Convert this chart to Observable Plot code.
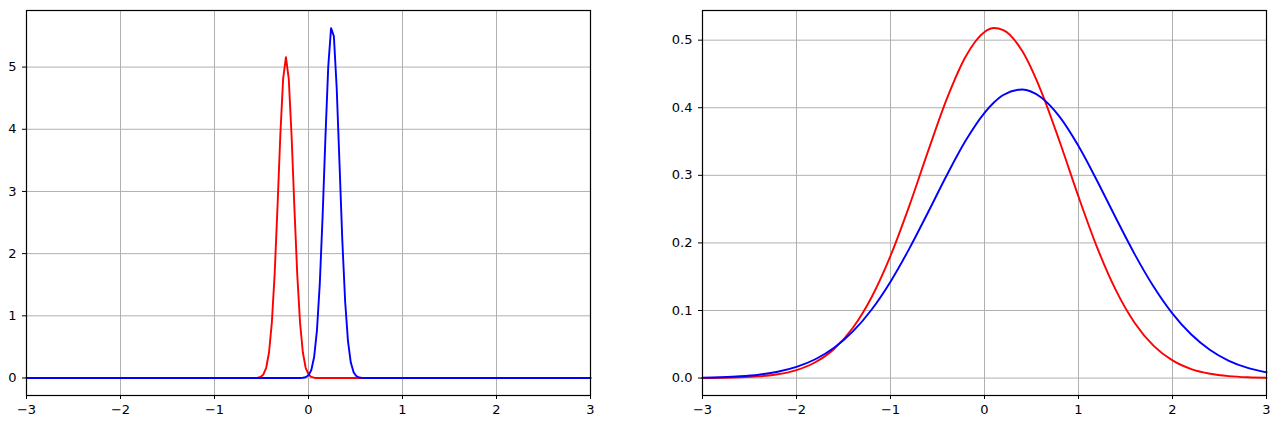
<!DOCTYPE html>
<html>
<head>
<meta charset="utf-8">
<script src="https://cdn.jsdelivr.net/npm/d3@7"></script>
<script src="https://cdn.jsdelivr.net/npm/@observablehq/plot@0.6"></script>
<style>
  html, body { margin: 0; padding: 0; background: #fff; }
  #wrap { display: flex; width: 1284px; height: 431px; }
</style>
</head>
<body>
<div id="wrap"></div>
<script>
// ---- Left panel data (narrow curves) ----
const leftX = [-3,
  -0.60,-0.57,-0.54,-0.51,-0.48,-0.45,-0.42,-0.39,-0.36,-0.33,-0.30,-0.27,-0.24,-0.21,-0.18,-0.15,-0.12,-0.09,-0.06,-0.03,
  0,0.03,0.06,0.09,0.12,0.15,0.18,0.21,0.24,0.27,0.30,0.33,0.36,0.39,0.42,0.45,0.48,0.51,0.54,0.57,0.60,
  3];
const leftRed = [0,
  0,0.001,0.0046,0.0173,0.0573,0.1646,0.4105,0.890,1.675,2.740,3.895,4.81,5.16,4.81,3.895,2.740,1.675,0.890,0.4105,0.1646,
  0.0573,0.0173,0.0046,0.001,0,0,0,0,0,0,0,0,0,0,0,0,0,0,0,0,0,
  0];
const leftBlue = [0,
  0,0,0,0,0,0,0,0,0,0,0,0,0,0,0,0,0,0.0006,0.0031,0.0124,
  0.0429,0.1292,0.338,0.767,1.514,2.596,3.866,5.004,5.626,5.495,4.664,3.439,2.203,1.226,0.593,0.249,0.0909,0.0288,0.0079,0.0019,0.0004,
  0];

// ---- Right panel data (wide curves) ----
const rightX = [-3,-2.8,-2.6,-2.4,-2.2,-2,-1.8,-1.6,-1.4,-1.2,-1,-0.8,-0.6,-0.4,-0.2,0,0.1,0.2,0.4,0.6,0.8,1,1.2,1.4,1.6,1.8,2,2.2,2.4,2.6,2.8,3];
const rightRed = [0.0001,0.0004,0.001,0.0025,0.0056,0.0118,0.0234,0.0431,0.0744,0.120,0.1809,0.2549,0.3358,0.4135,0.4759,0.5121,0.5179,0.5150,0.4842,0.4255,0.3496,0.2684,0.1926,0.1293,0.0811,0.0476,0.0261,0.0133,0.0064,0.0029,0.0012,0.0005];
const rightBlue = [0.0006,0.0013,0.0026,0.0050,0.0093,0.0165,0.0278,0.0448,0.0690,0.1015,0.1427,0.1915,0.2454,0.3005,0.3514,0.3925,0.4078,0.4189,0.4270,0.4156,0.3865,0.3433,0.2913,0.2361,0.1827,0.1351,0.0954,0.0644,0.0415,0.0255,0.0150,0.0084];

// ---- Ticks ----
const xTicks = [-3,-2,-1,0,1,2,3];
const leftYTicks = [0,1,2,3,4,5];
const rightYTicks = [0,0.1,0.2,0.3,0.4,0.5];

const fmtInt = d => d < 0 ? "\u2212" + Math.abs(d) : String(d);
const fmt1 = d3.format(".1f");

function rows(xs, ys) { return xs.map((x, i) => ({x, y: ys[i]})); }

const gridColor = "#b0b0b0";
const fontStyle = {background: "#fff", color: "#000", fontFamily: "DejaVu Sans, sans-serif", fontSize: "13px"};

function panel({yDomain, yTicks, yFmt, red, blue, curve, margins}) {
  return Plot.plot({
    width: 642,
    height: 431,
    ...margins,
    style: fontStyle,
    x: {domain: [-3, 3]},
    y: {domain: yDomain},
    marks: [
      Plot.ruleX(xTicks, {stroke: gridColor, strokeWidth: 1}),
      Plot.ruleY(yTicks, {stroke: gridColor, strokeWidth: 1}),
      Plot.line(red, {x: "x", y: "y", stroke: "red", strokeWidth: 1.9, curve}),
      Plot.line(blue, {x: "x", y: "y", stroke: "blue", strokeWidth: 1.9, curve}),
      Plot.frame({stroke: "black", strokeWidth: 1.2}),
      Plot.axisX({ticks: xTicks, tickFormat: fmtInt, tickSize: 4, tickPadding: 5, label: null}),
      Plot.axisY({ticks: yTicks, tickFormat: yFmt, tickSize: 4, tickPadding: 6, label: null})
    ]
  });
}

const left = panel({
  yDomain: [-0.2815, 5.91],
  yTicks: leftYTicks,
  yFmt: fmtInt,
  red: rows(leftX, leftRed),
  blue: rows(leftX, leftBlue),
  curve: "linear",
  margins: {marginLeft: 26, marginRight: 52, marginTop: 10, marginBottom: 36}
});
const right = panel({
  yDomain: [-0.0258, 0.5439],
  yTicks: rightYTicks,
  yFmt: fmt1,
  red: rows(rightX, rightRed),
  blue: rows(rightX, rightBlue),
  curve: "monotone-x",
  margins: {marginLeft: 60, marginRight: 18, marginTop: 10, marginBottom: 36}
});
document.getElementById("wrap").append(left, right);
</script>
</body>
</html>
